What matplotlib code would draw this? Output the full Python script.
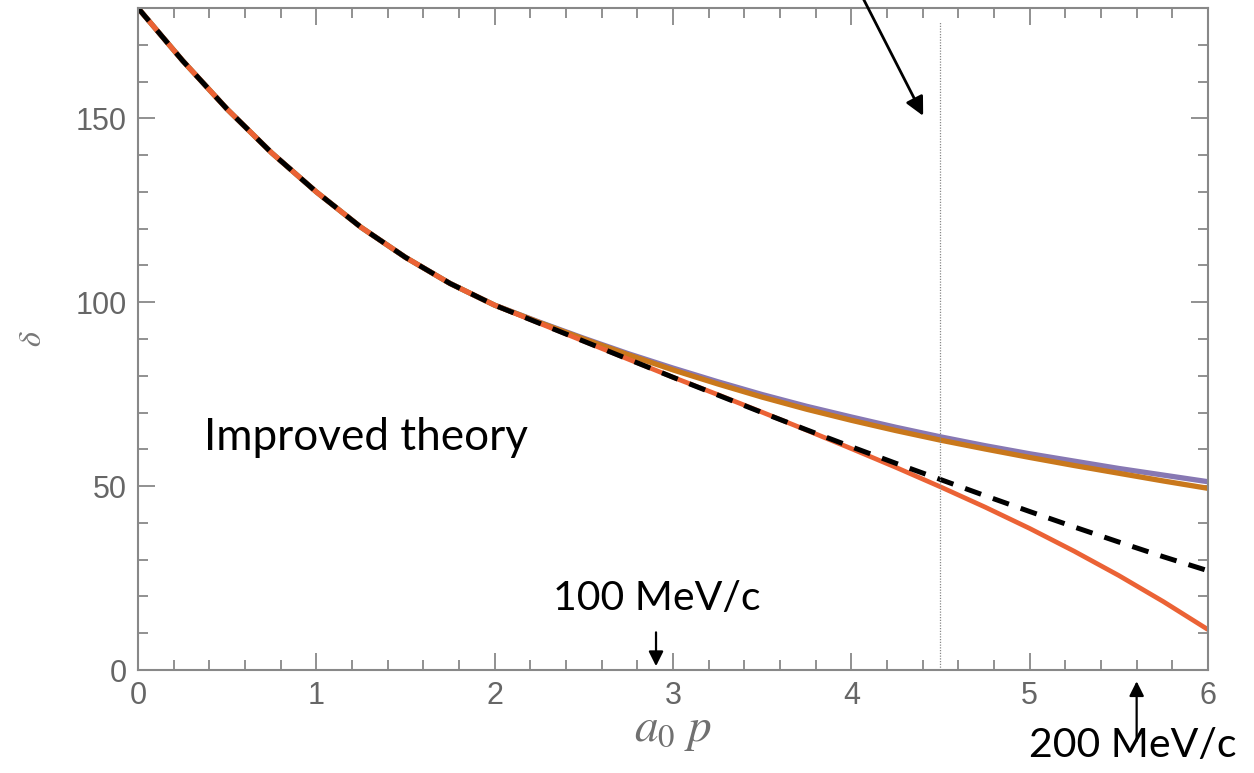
import numpy as np
import matplotlib.pyplot as plt
from matplotlib.ticker import MultipleLocator

plt.rcParams['mathtext.fontset'] = 'stix'

# ---------------------------------
# Data
# ---------------------------------
a0p = [0, 0.25, 0.5, 0.75, 1.0, 1.25, 1.5, 1.75, 2.0, 2.25, 2.5, 2.75, 3.0,
       3.25, 3.5, 3.75, 4.0, 4.25, 4.5, 4.75, 5.0, 5.25, 5.5, 5.75, 6.0]
delta_purple = [180, 165.7, 152.5, 140.6, 130.0, 120.4, 112.2, 105.1, 99.2, 94.6, 90.2, 86.0, 82.1,
                78.4, 74.9, 71.7, 68.8, 66.0, 63.4, 61.0, 58.8, 56.8, 54.8, 53.0, 51.2]
delta_orange = [180, 165.7, 152.5, 140.6, 130.0, 120.4, 112.2, 105.1, 99.2, 94.5, 90.0, 85.7, 81.6,
                77.8, 74.2, 70.9, 67.9, 65.1, 62.5, 60.1, 57.8, 55.6, 53.5, 51.4, 49.4]
delta_red    = [180, 165.7, 152.5, 140.6, 130.0, 120.4, 112.2, 105.1, 99.2, 94.3, 89.4, 84.5, 79.6,
                74.9, 70.1, 65.2, 60.2, 55.1, 49.8, 44.3, 38.5, 32.3, 25.7, 18.6, 11.0]
delta_black  = [180, 165.7, 152.5, 140.6, 130.0, 120.4, 112.2, 105.1, 99.2, 94.3, 89.4, 84.5, 79.6,
                74.8, 70.0, 65.3, 60.7, 56.2, 51.8, 47.4, 43.1, 38.9, 34.8, 30.8, 27.0]

cutoff_x = 4.5
mark_100 = 2.905
mark_200 = 5.6

# ---------------------------------
# Figure
# ---------------------------------
fig = plt.figure(figsize=(12.54, 7.73), dpi=100)
ax = fig.add_axes([0.110, 0.1332, 0.8533, 0.8565])

ax.plot(a0p, delta_purple, color='#8778B3', lw=3.8, solid_capstyle='butt')
ax.plot(a0p, delta_orange, color='#C9781C', lw=3.8, solid_capstyle='butt')
ax.plot(a0p, delta_red, color='#EB6235', lw=3.4, solid_capstyle='butt')
ax.plot(a0p, delta_black, color='black', lw=3.6, dashes=(3.4, 2.5))

ax.vlines(cutoff_x, 0, 176.5, colors='#888888', lw=0.9, linestyles=(0, (1, 1.2)))

ax.set_xlim(0, 6)
ax.set_ylim(0, 180)
ax.xaxis.set_major_locator(MultipleLocator(1))
ax.xaxis.set_minor_locator(MultipleLocator(0.2))
ax.yaxis.set_major_locator(MultipleLocator(50))
ax.yaxis.set_minor_locator(MultipleLocator(10))

gray = '#888888'
for s in ax.spines.values():
    s.set_color(gray)
    s.set_linewidth(1.5)
ax.tick_params(which='both', direction='in', top=True, right=True, color=gray, width=1.3,
               labelsize=22, labelcolor='#666666')
ax.tick_params(which='major', length=12, pad=8)
ax.tick_params(which='minor', length=7)
for lab in ax.get_xticklabels() + ax.get_yticklabels():
    lab.set_family('Liberation Sans')

ax.set_xlabel(r'$a_0\ p$', fontsize=34, color='#707070', labelpad=-2)
ax.set_ylabel(r'$\delta$', fontsize=23, color='#777777', labelpad=20)

# annotations
txt = dict(family='Lato', color='black')
ax.text(0.37, 63.3, 'Improved theory', fontsize=31.7, va='center', ha='left', **txt)
ax.text(mark_100 + 0.005, 19.5, '100 MeV/c', fontsize=29.5, va='center', ha='center', **txt)
ax.annotate('', xy=(mark_100, 0.3), xytext=(mark_100, 11),
            arrowprops=dict(arrowstyle='-|>', color='black', lw=1.6, mutation_scale=22))
ax.text(mark_200 - 0.02, -20.5, '200 MeV/c', fontsize=29.5, va='center', ha='center', clip_on=False, **txt)
ax.annotate('', xy=(mark_200, -2.3), xytext=(mark_200, -20),
            arrowprops=dict(arrowstyle='-|>', color='black', lw=1.6, mutation_scale=22),
            annotation_clip=False)
ax.annotate('', xy=(4.41, 150), xytext=(4.02, 187),
            arrowprops=dict(arrowstyle='-|>', color='black', lw=2.0, mutation_scale=28),
            annotation_clip=False)

fig.savefig('out.png', dpi=100)
